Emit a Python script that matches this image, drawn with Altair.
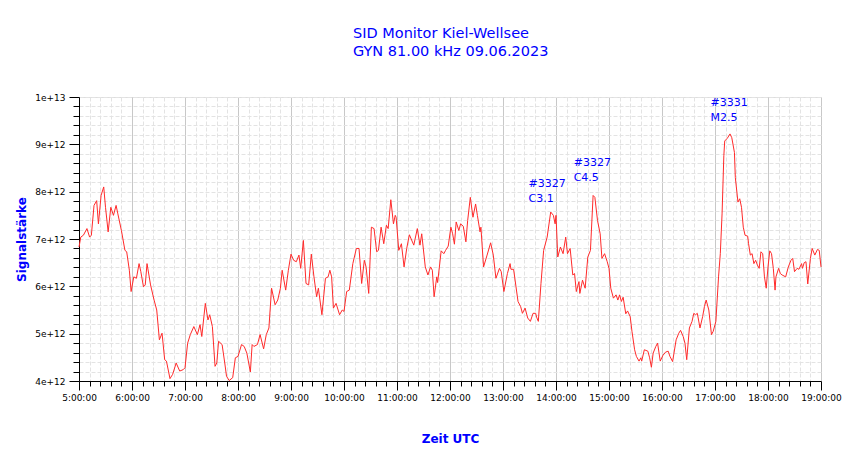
import altair as alt
import pandas as pd

# --- data (time UTC, signal strength in units of 1e12) ---
times_morning = ["5:00","5:02","5:05","5:09","5:12","5:14","5:17","5:20","5:22","5:25","5:28","5:30","5:33","5:36","5:39","5:42","5:44","5:48","5:52","5:54","5:57","5:59",
                 "6:02","6:05","6:08","6:10","6:13","6:15","6:17","6:21","6:25","6:28","6:31","6:34","6:37","6:39","6:43","6:46","6:50","6:54","6:58",
                 "7:00","7:03","7:06","7:10","7:14","7:17","7:19","7:23","7:26","7:28","7:31","7:34","7:36","7:38","7:42","7:45","7:47","7:50","7:54","7:57",
                 "8:00","8:04","8:07","8:10","8:14","8:16","8:18","8:22","8:25","8:29","8:32","8:35","8:38","8:42","8:45","8:48","8:50","8:54","8:57","9:00"]
signal_morning = [6.83,7.04,7.08,7.22,7.04,7.08,7.71,7.81,7.32,7.92,8.10,7.67,7.15,7.67,7.50,7.71,7.53,7.18,6.76,6.73,6.34,5.89,
                  6.20,6.17,6.48,6.31,5.99,6.03,6.48,6.03,5.71,5.50,4.87,5.01,4.45,4.42,4.05,4.14,4.38,4.21,4.24,
                  4.28,4.80,4.98,5.15,4.98,5.19,4.94,5.64,5.29,5.40,5.15,4.31,4.38,4.84,4.77,4.38,4.10,4.01,4.07,4.49,
                  4.52,4.77,4.73,4.59,4.19,4.77,4.73,4.77,4.98,4.68,4.98,5.12,5.96,5.61,5.71,5.96,6.34,5.92,6.34,6.68]

times_midday = ["9:03","9:06","9:09","9:11","9:14","9:17","9:20","9:23","9:26","9:29","9:31","9:35","9:39","9:42","9:44","9:46","9:48","9:51","9:55","9:58",
                "10:00","10:03","10:06","10:10","10:14","10:17","10:20","10:23","10:25","10:28","10:31","10:34","10:37","10:39","10:42","10:45","10:48","10:50","10:53","10:56","10:58","10:59",
                "11:02","11:05","11:08","11:11","11:14","11:19","11:23","11:26","11:28","11:32","11:35","11:38","11:40","11:42","11:45","11:46","11:50","11:53","11:55","11:58",
                "12:01","12:03","12:05","12:07","12:10","12:12","12:15","12:18","12:20","12:23","12:26","12:29","12:31","12:34","12:35","12:38","12:42","12:46","12:49","12:52","12:56","12:58",
                "13:01","13:05","13:08","13:09","13:12","13:17","13:20","13:22","13:25","13:28","13:31","13:34","13:37","13:38","13:40","13:43","13:46","13:50","13:54","13:57","13:59",
                "14:00","14:02","14:05","14:08","14:11","14:13","14:16","14:19","14:21","14:23","14:26"]
signal_midday = [6.55,6.52,6.66,6.38,6.97,6.06,6.03,6.68,6.20,5.78,5.96,5.40,6.17,6.20,6.34,6.20,5.54,5.64,5.40,5.50,
                 5.47,5.89,5.92,6.48,6.80,6.80,6.06,6.55,6.41,5.85,7.25,7.22,6.73,6.76,7.25,6.90,7.29,7.22,7.83,7.32,7.50,7.46,
                 6.76,6.90,6.41,6.80,7.09,6.87,7.22,6.87,7.11,6.41,6.24,6.41,6.34,5.78,6.20,6.08,6.75,6.69,6.76,6.85,
                 7.25,7.11,6.89,7.36,7.18,7.32,7.27,6.94,7.39,7.88,7.46,7.74,7.50,7.15,7.25,6.41,6.66,6.92,6.66,6.17,6.38,6.31,
                 5.89,6.27,6.48,6.36,6.36,5.68,5.57,5.43,5.54,5.33,5.26,5.43,5.43,5.35,5.26,6.06,6.76,7.04,7.57,7.50,7.32,
                 7.50,6.62,6.83,6.69,7.04,6.69,6.80,6.24,6.27,5.89,6.10]

times_afternoon = ["14:27","14:30","14:33","14:36","14:39","14:42","14:44","14:47","14:50","14:52","14:55","14:58",
                   "15:00","15:02","15:05","15:08","15:10","15:12","15:14","15:16","15:19","15:21","15:24","15:26","15:29","15:31","15:34","15:36","15:37","15:40","15:44","15:46","15:48","15:50","15:53","15:55","15:58",
                   "16:01","16:04","16:07","16:09","16:12","16:16","16:19","16:21","16:24","16:26","16:28","16:31","16:34","16:36","16:38","16:40","16:43","16:46","16:48","16:50","16:53","16:56","16:58",
                   "17:01","17:04","17:06","17:08","17:10","17:11","17:14","17:17","17:19","17:22","17:23","17:26","17:28","17:30","17:32","17:34","17:37","17:38","17:40","17:42","17:44","17:46","17:48","17:50","17:52","17:54","17:56","17:58",
                   "18:00","18:02","18:04","18:06","18:08","18:09","18:12","18:14","18:16","18:20","18:23","18:26","18:28","18:30","18:33","18:35","18:38","18:39","18:41","18:43","18:45","18:48","18:50","18:53","18:56","18:58","19:00"]
signal_afternoon = [5.85,6.13,5.96,6.62,6.76,7.92,7.88,7.39,7.11,6.59,6.69,6.52,
                    6.38,5.96,5.75,5.82,5.71,5.82,5.68,5.77,5.42,5.48,5.36,5.05,4.66,4.52,4.42,4.49,4.42,4.66,4.63,4.49,4.29,4.59,4.73,4.80,4.42,
                    4.54,4.61,4.63,4.52,4.41,4.87,5.01,5.07,4.94,4.80,4.45,5.12,5.26,5.43,5.40,5.43,5.12,5.36,5.57,5.71,5.50,4.98,5.05,
                    5.26,6.20,6.69,7.53,8.76,9.07,9.13,9.22,9.14,8.83,8.30,7.78,7.85,7.67,7.25,7.08,7.06,6.90,6.66,6.69,6.48,6.55,6.45,6.38,6.73,6.69,6.20,5.96,
                    6.41,6.75,6.69,6.38,5.92,6.20,6.38,6.27,6.24,6.20,6.41,6.55,6.59,6.31,6.38,6.36,6.48,6.38,6.50,6.52,6.05,6.59,6.80,6.66,6.78,6.76,6.41]

# flare annotations
flare_times = ["13:29", "14:20", "16:55"]
flare_values = [8.09, 8.54, 9.81]
flare_texts = ["#3327\nC3.1", "#3327\nC4.5", "#3331\nM2.5"]

title_lines = ["SID Monitor Kiel-Wellsee", "GYN 81.00 kHz 09.06.2023"]


def to_hours(s):
    h, m = s.split(":")
    return int(h) + int(m) / 60.0


times = times_morning + times_midday + times_afternoon
signal = signal_morning + signal_midday + signal_afternoon
df = pd.DataFrame({"hour": [to_hours(t) for t in times],
                   "signal": [v * 1e12 for v in signal]})
lab = pd.DataFrame({"hour": [to_hours(t) for t in flare_times],
                    "signal": [v * 1e12 for v in flare_values],
                    "text": flare_texts})

x_ticks = [5 + i * 0.2 for i in range(71)]
y_ticks = [4e12 + i * 2e11 for i in range(31)]
major_x = "abs(datum.value - round(datum.value)) < 0.01"
major_y = "abs(datum.value / 1e12 - round(datum.value / 1e12)) < 0.01"

FONT = "DejaVu Sans"
BLUE = "#0000ff"

x_axis = alt.Axis(
    values=x_ticks, tickCount=200,
    labelExpr=f"({major_x}) ? round(datum.value) + ':00:00' : ''",
    labelOverlap=False, labelFlush=False,
    labelFont=FONT, labelFontSize=9, labelColor="#000000", labelPadding=3,
    tickColor="#000000",
    tickSize={"condition": {"test": major_x, "value": 9}, "value": 5},
    domainColor="#000000",
    grid=True,
    gridColor={"condition": {"test": major_x, "value": "#c8c8c8"}, "value": "#e3e3e3"},
    gridDash={"condition": {"test": major_x, "value": []}, "value": [4, 2]},
    title="Zeit UTC", titleFont=FONT, titleFontSize=12, titleFontWeight="bold", titleColor=BLUE,
    titleX=371, titleY=61, titleAlign="center", titleBaseline="alphabetic",
)

y_axis = alt.Axis(
    values=y_ticks, tickCount=200,
    labelExpr=f"({major_y}) ? format(datum.value, '.0e') : ''",
    labelOverlap=False, labelFlush=False,
    labelFont=FONT, labelFontSize=9, labelColor="#000000", labelPadding=4,
    tickColor="#000000",
    tickSize={"condition": {"test": major_y, "value": 10}, "value": 6},
    domainColor="#000000",
    grid=True, gridColor="#e3e3e3", gridDash=[4, 2],
    title="Signalstärke", titleFont=FONT, titleFontSize=12, titleFontWeight="bold", titleColor=BLUE,
    titleAngle=-90, titleX=-54, titleY=142, titleAlign="center", titleBaseline="alphabetic",
)

x_enc = alt.X("hour:Q", scale=alt.Scale(domain=[5, 19], nice=False, zero=False), axis=x_axis)
y_enc = alt.Y("signal:Q", scale=alt.Scale(domain=[4e12, 1e13], nice=False, zero=False), axis=y_axis)

line = alt.Chart(df).mark_line(color="#ff2a2a", strokeWidth=1).encode(x=x_enc, y=y_enc)

labels = alt.Chart(lab).mark_text(
    align="left", baseline="alphabetic", lineBreak="\n", lineHeight=15,
    font=FONT, fontSize=11, color=BLUE,
).encode(x="hour:Q", y="signal:Q", text="text:N")

chart = alt.layer(line, labels).properties(
    width=742, height=284,
    title=alt.TitleParams(text=title_lines, font=FONT, fontSize=14.5, fontWeight="normal",
                          color=BLUE, anchor="middle", frame="group", align="left", dx=-97,
                          baseline="alphabetic", lineHeight=18.3, offset=22),
    autosize=alt.AutoSizeParams(type="none"),
    padding={"left": 71, "top": 89, "right": 21, "bottom": 64},
).configure_view(stroke=None).configure(background="white")

chart.save("out.html", embed_options={"renderer": "svg", "actions": False})
